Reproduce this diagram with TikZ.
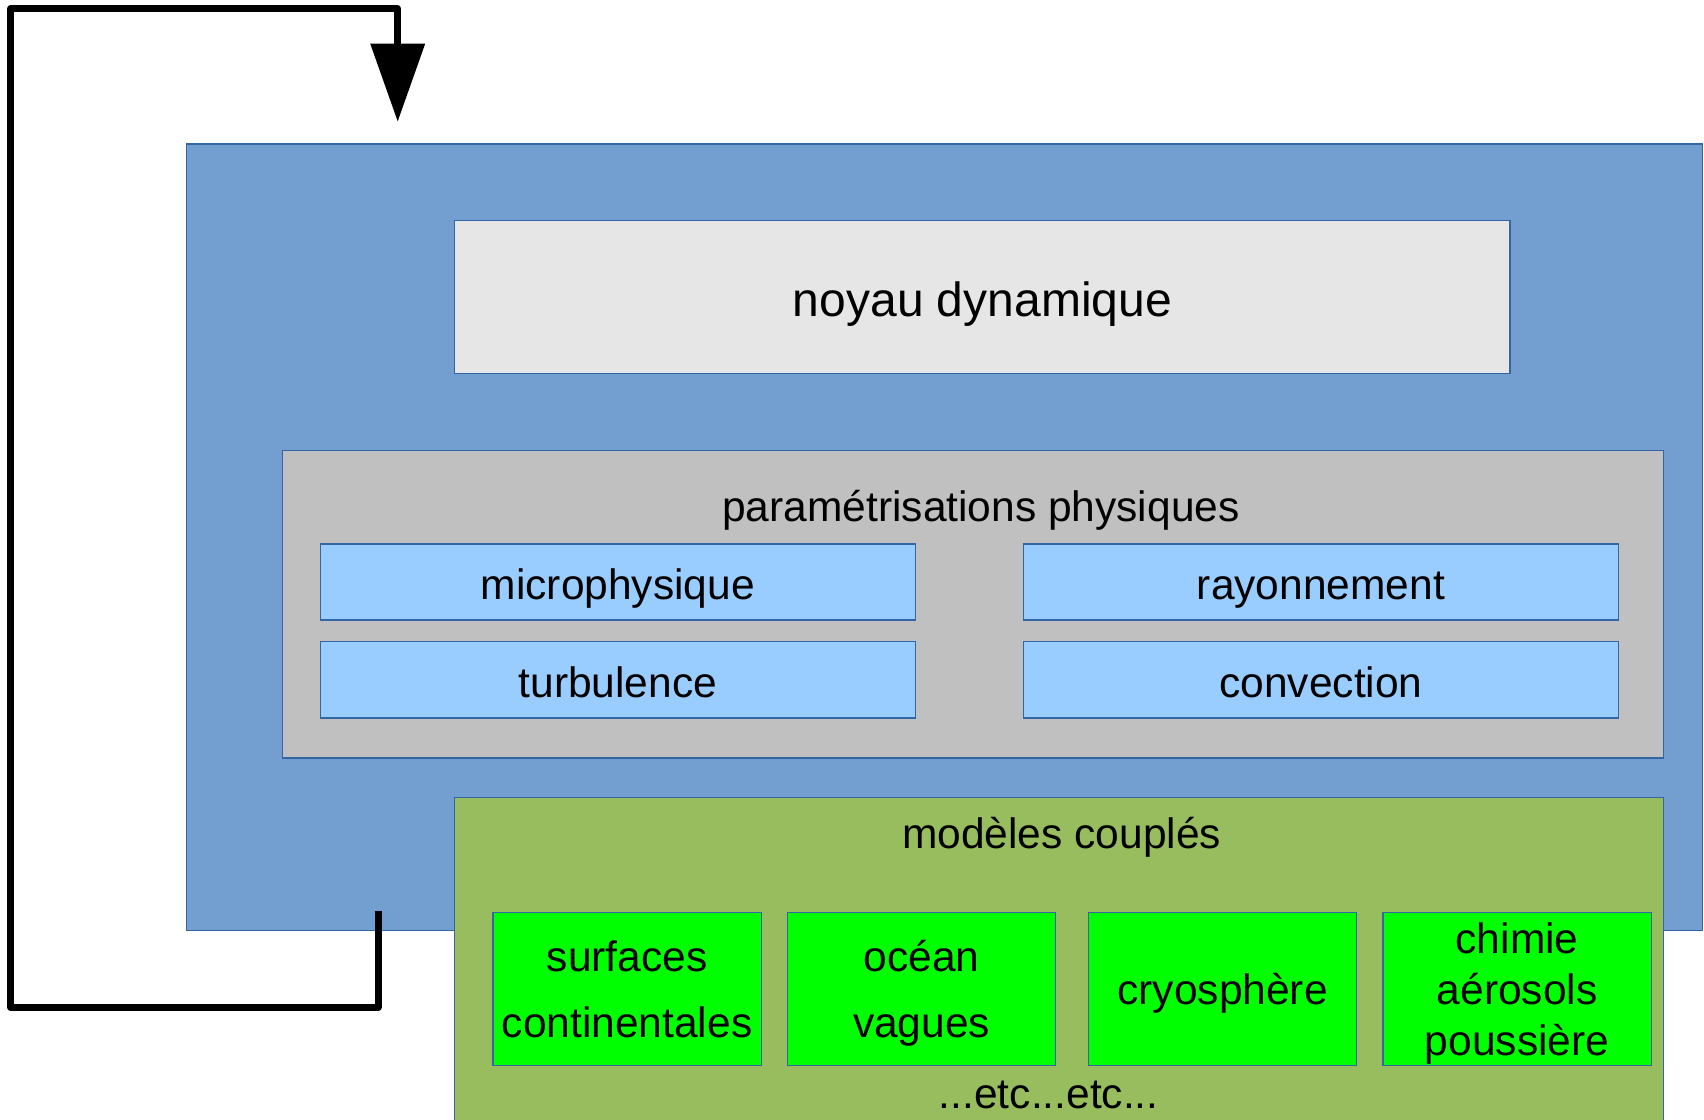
\documentclass[tikz,border=0pt]{standalone}
\usepackage{fontspec}
\setmainfont{Liberation Sans}
\usetikzlibrary{positioning,arrows.meta}

\definecolor{modelBlue}{HTML}{729FCF}
\definecolor{boxBorder}{HTML}{3465A4}
\definecolor{coreGrey}{HTML}{E6E6E6}
\definecolor{physGrey}{HTML}{C0C0C0}
\definecolor{paramBlue}{HTML}{99CCFF}
\definecolor{coupledGreen}{HTML}{97BD5E}
\definecolor{brightGreen}{HTML}{00FF00}

\begin{document}
\begin{tikzpicture}[x=1pt,y=-1pt,>={Triangle[length=78pt,width=53pt]}]

    %
    % Styles for boxes, titles and the loop
    %
    \tikzstyle{box} = [draw=boxBorder, line width=1.2pt, rectangle, anchor=north west,
                       inner sep=0pt, text=black, font={\fontsize{42.5}{50}\selectfont}]
    \tikzstyle{paramBox} = [box, fill=paramBlue, minimum width=595.5pt, minimum height=76.1pt,
                            text height=36pt, text depth=0pt];
    \tikzstyle{coupledBox} = [box, fill=brightGreen, minimum width=268.4pt, minimum height=153.3pt,
                              align=center, text depth=0pt];
    \tikzstyle{title} = [inner sep=0pt, font={\fontsize{42.5}{50}\selectfont}];
    \tikzstyle{loopFlow} = [black, line width=7pt, line join=round, ->];

    \useasboundingbox (0,0) rectangle (1704,1119);

    %
    % Position boxes
    %
    \node[box, name=modele, fill=modelBlue, minimum width=1516pt, minimum height=786.8pt] at (185.8,143.4) {};
    \node[box, name=noyau, fill=coreGrey, minimum width=1055.2pt, minimum height=153.2pt,
          text height=40pt, text depth=0pt, font={\fontsize{48}{54}\selectfont}] at (454.2,219.5) {noyau dynamique};

    \node[box, name=physique, fill=physGrey, minimum width=1381.2pt, minimum height=307.5pt] at (281.5,449.9) {};
    \node[title, name=physTitle] at (981,510.6) {paramétrisations physiques};
    \node[paramBox, name=micro] at (319.5,543.3) {microphysique};
    \node[paramBox, name=rayon] at (1022.6,543.3) {rayonnement};
    \node[paramBox, name=turbu] at (319.5,641.2) {turbulence};
    \node[paramBox, name=convec] at (1022.6,641.2) {convection};

    \node[box, name=couples, fill=coupledGreen, minimum width=1208.5pt, minimum height=340pt] at (454.2,796.6) {};
    \node[title, name=coupTitle] at (1061.7,836.8) {modèles couplés};
    \node[coupledBox, name=surfaces, font={\fontsize{42.5}{66}\selectfont}] at (492.3,911.7) {surfaces\\continentales};
    \node[coupledBox, name=ocean, font={\fontsize{42.5}{66}\selectfont}] at (786.8,911.7) {océan\\vagues};
    \node[coupledBox, name=cryo] at (1087.8,911.7) {cryosphère};
    \node[coupledBox, name=chimie, font={\fontsize{42.5}{51}\selectfont}] at (1382.3,911.7) {chimie\\aérosols\\poussière};
    \node[title, name=etc] at (1048.7,1094.5) {...etc...etc...};

    %
    % Feedback loop
    %
    \coordinate (loopStart) at (378,910.6);
    \coordinate (loopEnd) at (397.7,121.7);
    \draw[loopFlow] (loopStart) -- (378,1007.4) -- (10.9,1007.4) -- (10.9,8.7) -- (397.7,8.7) -- (loopEnd);
\end{tikzpicture}
\end{document}
